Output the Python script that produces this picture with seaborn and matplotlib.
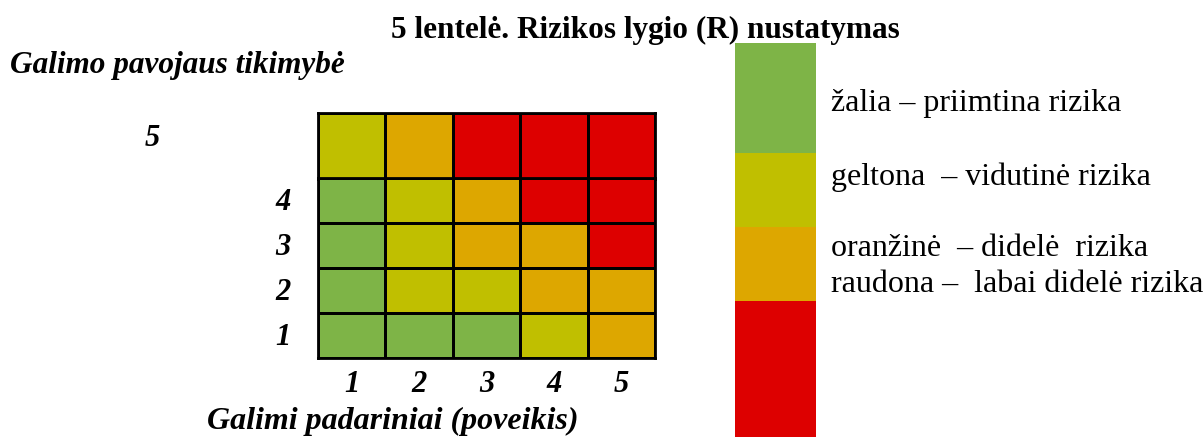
import matplotlib
matplotlib.use("Agg")
import matplotlib.pyplot as plt
import seaborn as sns
import numpy as np
from matplotlib.colors import ListedColormap

sns.set_theme(style="white")
plt.rcParams['font.family'] = ['Liberation Serif', 'DejaVu Serif']
plt.rcParams['text.color'] = 'black'

# ---- data ----
title = "5 lentelė. Rizikos lygio (R) nustatymas"
y_title = "Galimo pavojaus tikimybė"
x_title = "Galimi padariniai (poveikis)"
likelihood_labels = ["5", "4", "3", "2", "1"]      # rows, top to bottom
impact_labels = ["1", "2", "3", "4", "5"]          # columns
# risk level: 0 green, 1 yellow, 2 orange, 3 red
risk_row5 = [1, 2, 3, 3, 3]
risk_row4 = [0, 1, 2, 3, 3]
risk_row3 = [0, 1, 2, 2, 3]
risk_row2 = [0, 1, 1, 2, 2]
risk_row1 = [0, 0, 0, 1, 2]
level_colors = ["#7EB447", "#C0BF00", "#DDA700", "#DD0000"]
level_labels = ["žalia – priimtina rizika",
                "geltona  – vidutinė rizika",
                "oranžinė  – didelė  rizika",
                "raudona –  labai didelė rizika"]
legend_sizes = [110, 74, 74, 136]

W, H = 1204, 437
fig = plt.figure(figsize=(W / 100, H / 100), dpi=100)

def px_axes(x0, y0, x1, y1):
    return fig.add_axes([x0 / W, 1 - y1 / H, (x1 - x0) / W, (y1 - y0) / H])

cmap = ListedColormap(level_colors)
LW = 2.0

# top row (taller)
ax_top = px_axes(318, 113, 655, 179)
sns.heatmap(np.array([risk_row5]), ax=ax_top, cmap=cmap, vmin=-0.5, vmax=3.5,
            cbar=False, linewidths=LW, linecolor="black",
            xticklabels=False, yticklabels=False)
# remaining rows
ax_bot = px_axes(318, 178, 655, 358)
sns.heatmap(np.array([risk_row4, risk_row3, risk_row2, risk_row1]), ax=ax_bot,
            cmap=cmap, vmin=-0.5, vmax=3.5, cbar=False, linewidths=LW,
            linecolor="black", xticklabels=False, yticklabels=False)
for ax in (ax_top, ax_bot):
    for s in ax.spines.values():
        s.set_visible(True)
        s.set_color("black")
        s.set_linewidth(LW)

num_font = dict(fontsize=22, fontweight="bold", fontstyle="italic", color="black")
# y labels
fig.text(152 / W, 1 - 138 / H, likelihood_labels[0], ha="center", va="center", **num_font)
for i, lab in enumerate(likelihood_labels[1:]):
    ax_bot.text(-0.52, i + 0.55, lab, ha="center", va="center", **num_font)
# x labels
for j, lab in enumerate(impact_labels):
    ax_bot.text(j + 0.5, 4.6, lab, ha="center", va="center", **num_font)

fig.text(645 / W, 1 - 30 / H, title, ha="center", va="center",
         fontsize=22.5, fontweight="bold", color="black")
fig.text(10 / W, 1 - 66 / H, y_title, ha="left", va="center",
         fontsize=22.5, fontweight="bold", fontstyle="italic", color="black")
fig.text(393 / W, 1 - 421 / H, x_title, ha="center", va="center",
         fontsize=23, fontweight="bold", fontstyle="italic", color="black")

# legend bar
ax_leg = px_axes(735, 43, 816, 437)
total = sum(legend_sizes)
bottom = total
for size, col in zip(legend_sizes, level_colors):
    bottom -= size
    ax_leg.bar(0, size, bottom=bottom, width=1.0, color=col, linewidth=0)
ax_leg.set_xlim(-0.5, 0.5)
ax_leg.set_ylim(0, total)
ax_leg.axis("off")

label_y = [104, 177, 249, 285]
for lab, yy in zip(level_labels, label_y):
    fig.text(831 / W, 1 - yy / H, lab, ha="left", va="center", fontsize=23,
             color="black")

fig.savefig("out.png", dpi=100)
